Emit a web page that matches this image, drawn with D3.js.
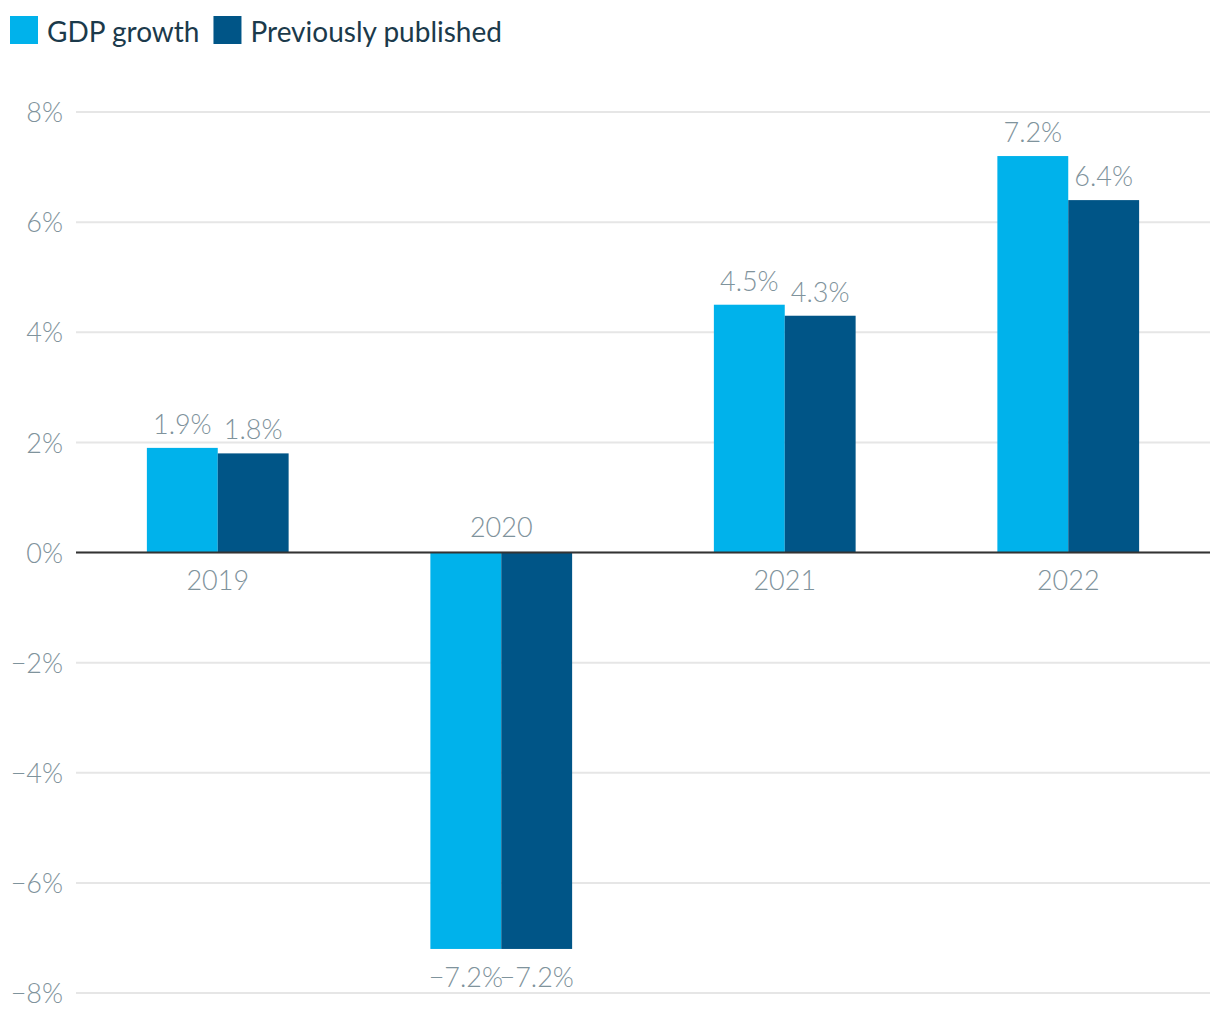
<!DOCTYPE html>
<html><head><meta charset="utf-8">
<script src="https://cdn.jsdelivr.net/npm/d3@7"></script>
<style>body{margin:0;background:#fff}svg{display:block}</style>
</head><body>
<svg id="c" width="1220" height="1020"></svg>
<script>
const categories = ["2019", "2020", "2021", "2022"];
const seriesNames = ["GDP growth", "Previously published"];
const gdpGrowth = [1.9, -7.2, 4.5, 7.2];
const previouslyPublished = [1.8, -7.2, 4.3, 6.4];
const yTicks = [-8, -6, -4, -2, 0, 2, 4, 6, 8];
const colors = ["#00b2eb", "#005587"];

const svg = d3.select("#c");
const margin = {left: 76, right: 10, top: 112, bottom: 27};
const W = 1220, H = 1020;
const x = d3.scaleBand().domain(categories).range([margin.left, W - margin.right]).paddingInner(0).paddingOuter(0);
const xs = d3.scaleBand().domain([0, 1]).range([0, x.bandwidth()]).paddingInner(0).paddingOuter(1);
const y = d3.scaleLinear().domain([-8, 8]).range([H - margin.bottom, margin.top]);
const fmt = v => (v < 0 ? "\u2212" : "") + Math.abs(v) + "%";
const FS = 27;

// gridlines
svg.append("g").selectAll("line").data(yTicks).join("line")
  .attr("x1", margin.left).attr("x2", W - margin.right)
  .attr("y1", d => y(d)).attr("y2", d => y(d))
  .attr("stroke", "#e6e6e6").attr("stroke-width", 2);

// y axis labels
const yAxis = d3.axisLeft(y).tickValues(yTicks).tickSize(0).tickPadding(13).tickFormat(fmt);
const ya = svg.append("g").attr("transform", `translate(${margin.left},1)`).call(yAxis);
ya.select(".domain").remove();
ya.selectAll("text").attr("font-family", "Lato").attr("font-weight", 300)
  .attr("font-size", FS).attr("fill", "#7f939c");

const data = categories.map((c, i) => ({c, vals: [gdpGrowth[i], previouslyPublished[i]]}));

// bars
const g = svg.append("g").selectAll("g").data(data).join("g")
  .attr("transform", d => `translate(${x(d.c)},0)`);
g.selectAll("rect").data(d => d.vals.map((v, k) => ({v, k}))).join("rect")
  .attr("x", d => xs(d.k)).attr("width", xs.bandwidth())
  .attr("y", d => y(Math.max(0, d.v))).attr("height", d => Math.abs(y(d.v) - y(0)))
  .attr("fill", d => colors[d.k]);

// value labels
g.selectAll("text.val").data(d => d.vals.map((v, k) => ({v, k}))).join("text")
  .attr("class", "val")
  .attr("x", d => xs(d.k) + xs.bandwidth() / 2)
  .attr("y", d => d.v >= 0 ? y(d.v) - 14 : y(d.v) + 38)
  .attr("text-anchor", "middle")
  .attr("font-family", "Lato").attr("font-weight", 300).attr("font-size", FS)
  .attr("fill", "#7f939c").text(d => fmt(d.v));

// zero line
svg.append("line").attr("x1", margin.left).attr("x2", W - margin.right)
  .attr("y1", y(0)).attr("y2", y(0)).attr("stroke", "#333").attr("stroke-width", 2);

// category labels
svg.append("g").selectAll("text").data(data).join("text")
  .attr("x", d => x(d.c) + x.bandwidth() / 2)
  .attr("y", d => d3.min(d.vals) < 0 ? y(0) - 16 : y(0) + 37)
  .attr("text-anchor", "middle")
  .attr("font-family", "Lato").attr("font-weight", 300).attr("font-size", FS)
  .attr("fill", "#7f939c").text(d => d.c);

// legend
const lg = svg.append("g");
let lx = 10;
seriesNames.forEach((n, i) => {
  lg.append("rect").attr("x", lx).attr("y", 16).attr("width", 28).attr("height", 28).attr("fill", colors[i]);
  const t = lg.append("text").attr("x", lx + 37).attr("y", 42)
    .attr("font-family", "Lato").attr("font-size", 28).attr("fill", "#1b3a4b").text(n);
  lx += 37 + t.node().getComputedTextLength() + 14;
});
</script>
</body></html>
